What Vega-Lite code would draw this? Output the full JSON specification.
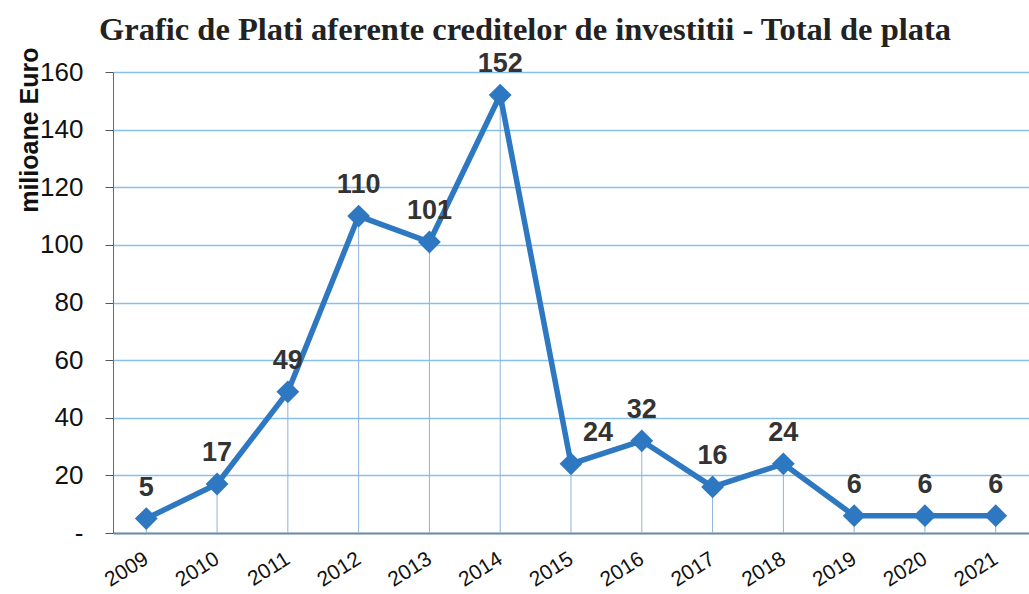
{
  "$schema": "https://vega.github.io/schema/vega-lite/v6.json",
  "width": 916,
  "height": 461,
  "autosize": "none",
  "padding": {"left": 113, "top": 72, "right": 0, "bottom": 61},
  "background": "white",
  "title": {
    "text": "Grafic de Plati  aferente creditelor de investitii - Total de plata",
    "font": "Liberation Serif",
    "fontSize": 32.5,
    "fontWeight": "bold",
    "color": "#222222",
    "anchor": "start",
    "frame": "group",
    "dx": -14,
    "offset": 1
  },
  "config": {"view": {"stroke": null}},
  "data": {
    "values": [
      {"an": "2009", "valoare": 5},
      {"an": "2010", "valoare": 17},
      {"an": "2011", "valoare": 49},
      {"an": "2012", "valoare": 110},
      {"an": "2013", "valoare": 101},
      {"an": "2014", "valoare": 152},
      {"an": "2015", "valoare": 24},
      {"an": "2016", "valoare": 32},
      {"an": "2017", "valoare": 16},
      {"an": "2018", "valoare": 24},
      {"an": "2019", "valoare": 6},
      {"an": "2020", "valoare": 6},
      {"an": "2021", "valoare": 6}
    ]
  },
  "encoding": {
    "x": {
      "field": "an",
      "type": "ordinal",
      "scale": {"type": "point", "padding": 0.47},
      "axis": {
        "title": null,
        "grid": false,
        "ticks": false,
        "domain": true,
        "domainColor": "#7a8aa0",
        "domainWidth": 2,
        "labelAngle": -32,
        "labelAlign": "right",
        "labelBaseline": "middle",
        "labelFont": "Liberation Sans",
        "labelFontSize": 21,
        "labelColor": "#111111",
        "labelPadding": 24
      }
    }
  },
  "layer": [
    {
      "mark": {"type": "rule", "color": "#8fb3d9", "strokeWidth": 1},
      "encoding": {
        "y": {"field": "valoare", "type": "quantitative", "scale": {"domain": [0, 160]}},
        "y2": {"datum": 0}
      }
    },
    {
      "mark": {"type": "line", "color": "#2e78c2", "strokeWidth": 5.5},
      "encoding": {
        "y": {
          "field": "valoare",
          "type": "quantitative",
          "scale": {"domain": [0, 160]},
          "axis": {
            "values": [0, 20, 40, 60, 80, 100, 120, 140, 160],
            "labelExpr": "datum.value == 0 ? '-' : datum.label",
            "grid": true,
            "gridColor": "#86c1ee",
            "gridWidth": 1.5,
            "domain": true,
            "domainColor": "#6b6b6b",
            "domainWidth": 1,
            "ticks": true,
            "tickColor": "#555555",
            "tickSize": 8,
            "labelFont": "Liberation Sans",
            "labelFontSize": 26,
            "labelColor": "#111111",
            "labelPadding": 22,
            "title": "milioane Euro",
            "titleFont": "Liberation Sans",
            "titleFontSize": 25,
            "titleFontWeight": "bold",
            "titleColor": "#111111",
            "titleAngle": -90,
            "titleAlign": "right",
            "titleBaseline": "middle",
            "titleX": -84,
            "titleY": -25
          }
        }
      }
    },
    {
      "mark": {"type": "point", "shape": "diamond", "filled": true, "size": 520, "color": "#2e78c2", "opacity": 1},
      "encoding": {"y": {"field": "valoare", "type": "quantitative"}}
    },
    {
      "transform": [{"filter": "datum.an != '2015'"}],
      "mark": {"type": "text", "font": "Liberation Sans", "fontSize": 27, "fontWeight": "bold", "color": "#333333", "dy": -31, "baseline": "middle"},
      "encoding": {
        "y": {"field": "valoare", "type": "quantitative"},
        "text": {"field": "valoare", "type": "quantitative"}
      }
    },
    {
      "transform": [{"filter": "datum.an == '2015'"}],
      "mark": {"type": "text", "font": "Liberation Sans", "fontSize": 27, "fontWeight": "bold", "color": "#333333", "dy": -31, "dx": 27, "baseline": "middle"},
      "encoding": {
        "y": {"field": "valoare", "type": "quantitative"},
        "text": {"field": "valoare", "type": "quantitative"}
      }
    }
  ]
}
